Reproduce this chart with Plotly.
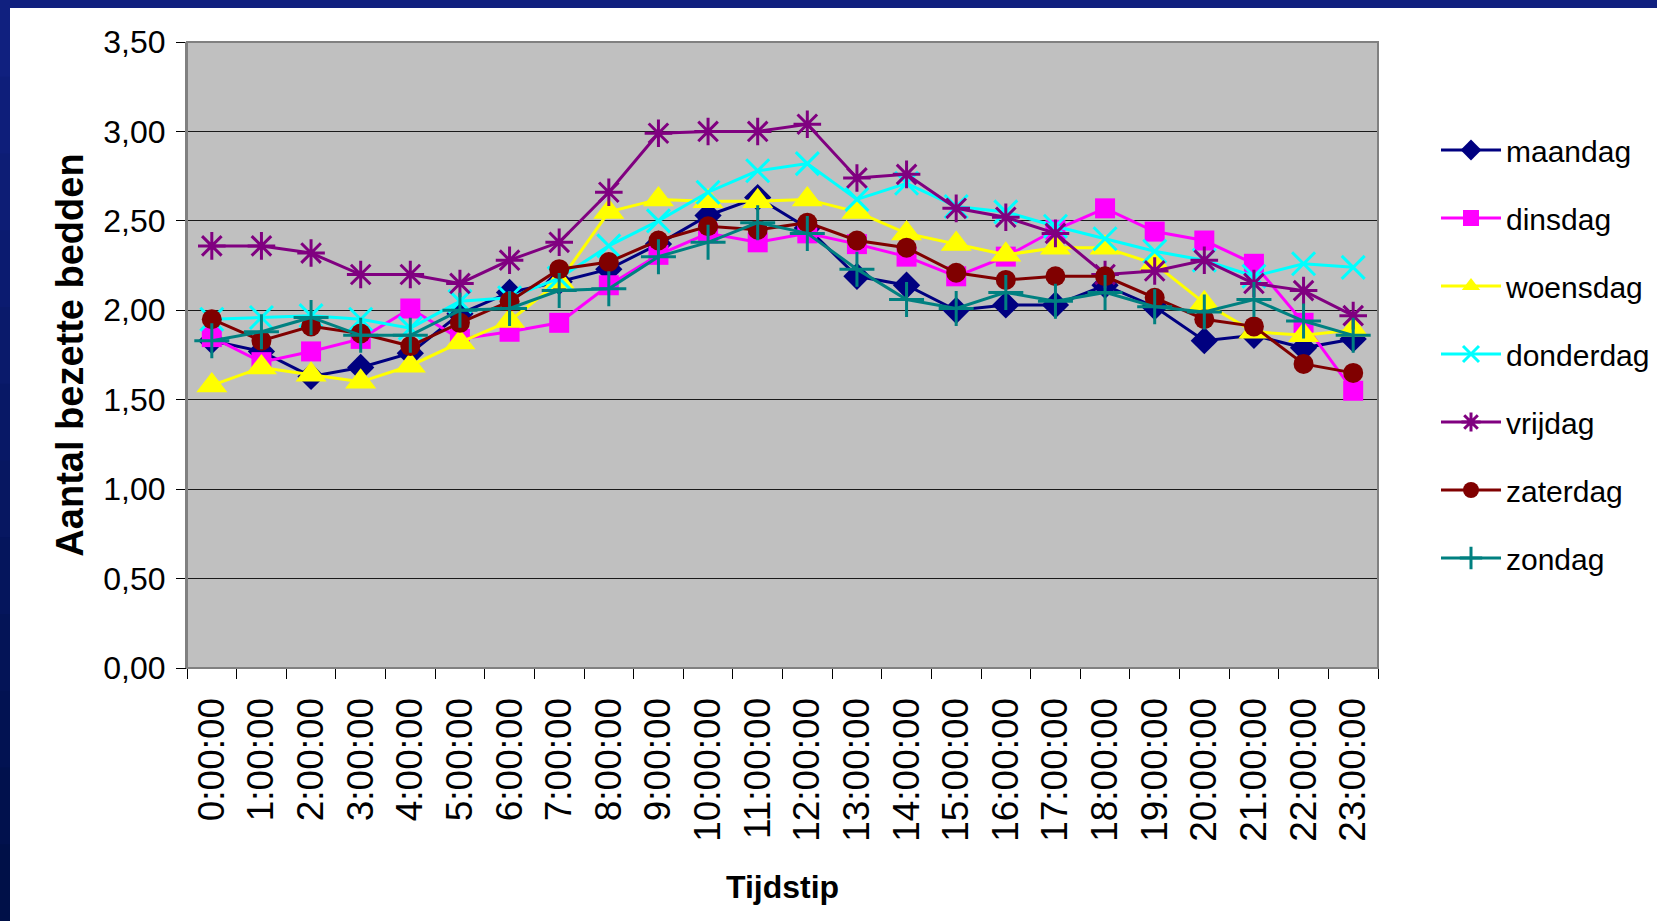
import plotly.graph_objects as go

categories = [f"{h}:00:00" for h in range(24)]

maandag = [1.83, 1.77, 1.63, 1.68, 1.76, 1.98, 2.10, 2.16, 2.23, 2.37, 2.53, 2.63,
           2.46, 2.19, 2.14, 2.00, 2.03, 2.03, 2.14, 2.02, 1.83, 1.86, 1.79, 1.84]
dinsdag = [1.85, 1.71, 1.77, 1.84, 2.01, 1.84, 1.88, 1.93, 2.14, 2.31, 2.43, 2.38,
           2.43, 2.37, 2.30, 2.19, 2.30, 2.45, 2.57, 2.44, 2.39, 2.26, 1.93, 1.55]
woensdag = [1.58, 1.68, 1.64, 1.60, 1.69, 1.82, 1.94, 2.16, 2.55, 2.62, 2.61, 2.61,
            2.62, 2.55, 2.43, 2.37, 2.31, 2.35, 2.35, 2.26, 2.04, 1.88, 1.86, 1.89]
donderdag = [1.95, 1.96, 1.97, 1.95, 1.90, 2.05, 2.07, 2.18, 2.36, 2.50, 2.66, 2.78,
             2.82, 2.62, 2.71, 2.58, 2.55, 2.47, 2.40, 2.33, 2.28, 2.19, 2.26, 2.24]
vrijdag = [2.36, 2.36, 2.32, 2.20, 2.20, 2.15, 2.28, 2.38, 2.66, 2.99, 3.00, 3.00,
           3.04, 2.74, 2.76, 2.57, 2.52, 2.43, 2.20, 2.22, 2.28, 2.15, 2.11, 1.97]
zaterdag = [1.95, 1.83, 1.91, 1.87, 1.80, 1.93, 2.05, 2.23, 2.27, 2.39, 2.47, 2.45,
            2.49, 2.39, 2.35, 2.21, 2.17, 2.19, 2.19, 2.07, 1.95, 1.91, 1.70, 1.65]
zondag = [1.83, 1.88, 1.96, 1.86, 1.86, 2.00, 2.01, 2.11, 2.12, 2.30, 2.38, 2.49,
          2.43, 2.23, 2.06, 2.01, 2.10, 2.05, 2.10, 2.02, 1.99, 2.06, 1.94, 1.86]

series = [
    ("maandag", maandag, "#000080", "diamond", 21),
    ("dinsdag", dinsdag, "#FF00FF", "square", 20),
    ("woensdag", woensdag, "#FFFF00", "triangle-up", 27),
    ("donderdag", donderdag, "#00FFFF", "x-thin", 23),
    ("vrijdag", vrijdag, "#800080", "asterisk", 23),
    ("zaterdag", zaterdag, "#800000", "circle", 20),
    ("zondag", zondag, "#008080", "cross-thin", 25),
]

W, H = 1657, 921
L, R, T, B = 187, 1378, 42, 668
PW, PH = R - L, B - T

def px(xp):
    return (xp - L) / PW

def py(yp):
    return (B - yp) / PH

fig = go.Figure()
for name, vals, col, sym, size in series:
    thin = sym in ("x-thin", "asterisk", "cross-thin")
    fig.add_trace(go.Scatter(
        x=categories, y=vals, name=name, mode="lines+markers",
        legendgroup=name,
        line=dict(color=col, width=3),
        marker=dict(symbol=sym, size=size, color=col,
                    line=dict(color=col, width=3 if thin else 0)),
    ))

shapes = []
nseg = 12
for i in range(nseg):
    f = i / (nseg - 1)
    r = int(0x10 + (0x00 - 0x10) * f)
    g = int(0x20 + (0x10 - 0x20) * f)
    b = int(0x7F + (0x48 - 0x7F) * f)
    ytop = H * i / nseg
    ybot = H * (i + 1) / nseg + 2
    shapes.append(dict(type="rect", xref="paper", yref="paper",
                       x0=px(-2), x1=px(10),
                       y0=py(ybot), y1=py(ytop),
                       fillcolor=f"rgb({r},{g},{b})", line=dict(width=0), layer="above"))
shapes.append(dict(type="rect", xref="paper", yref="paper", x0=px(0), x1=px(W + 2), y0=py(8), y1=py(-2),
                   fillcolor="#10207F", line=dict(width=0), layer="above"))
# plot area border
shapes.append(dict(type="rect", xref="paper", yref="paper", x0=0, x1=1, y0=0, y1=1,
                   line=dict(color="#808080", width=2), fillcolor="rgba(0,0,0,0)", layer="above"))

fig.update_layout(
    width=W, height=H,
    margin=dict(l=L, r=W - R, t=T, b=H - B, pad=0, autoexpand=False),
    paper_bgcolor="white", plot_bgcolor="#C0C0C0",
    separators=",.",
    font=dict(family="Liberation Sans, Arial, sans-serif", color="black"),
    shapes=shapes,
    showlegend=True,
    legend=dict(x=px(1436), y=py(124), xanchor="left", yanchor="top",
                font=dict(size=30, family="Liberation Sans, Arial, sans-serif"),
                traceorder="grouped", tracegroupgap=26,
                bgcolor="rgba(0,0,0,0)", itemwidth=60),
    xaxis=dict(
        type="category", range=[-0.5, 23.5],
        tickson="boundaries", ticks="outside", ticklen=10, tickwidth=1, tickcolor="black",
        tickangle=-90, tickfont=dict(size=37),
        ticklabelstandoff=14,
        showgrid=False, showline=True, linecolor="black", linewidth=1,
        title=dict(text="<b>Tijdstip</b>", font=dict(size=32), standoff=34),
    ),
    yaxis=dict(
        range=[0, 3.5], dtick=0.5, tick0=0, tickformat=".2f",
        ticks="outside", ticklen=9, tickwidth=1, tickcolor="black",
        tickfont=dict(size=32), ticklabelstandoff=4,
        showgrid=True, gridcolor="#1a1a1a", gridwidth=1,
        showline=True, linecolor="#808080", linewidth=2,
        zeroline=False,
        title=dict(text="<b>Aantal bezette bedden</b>", font=dict(size=38), standoff=8),
    ),
)

fig.write_html("out.html", config={"displayModeBar": False},
               post_script="document.body.style.margin='0';document.body.style.overflow='hidden';")
